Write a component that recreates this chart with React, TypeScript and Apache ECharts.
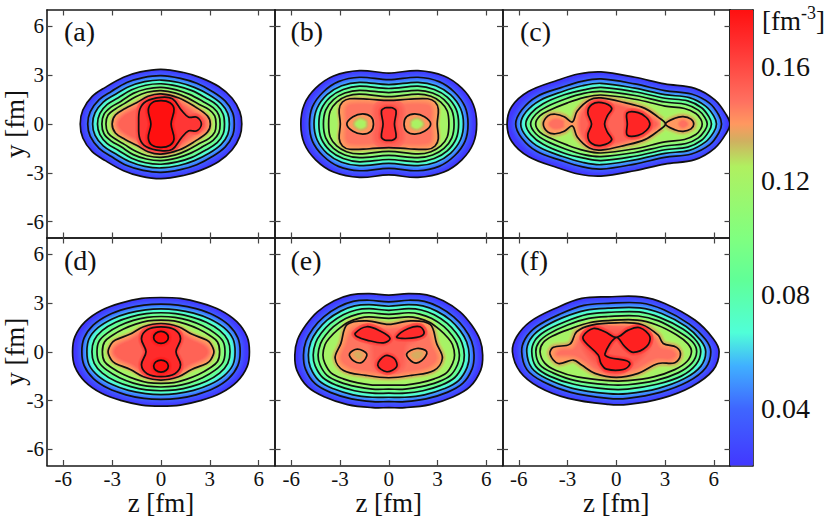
import React, { useEffect, useRef } from "react";
import * as echarts from "echarts";

type P = [number, number];
type Shape = { v: number; from?: number; spread?: number; pts: P[]; line?: boolean };

const FONT = "Liberation Serif";
const panelLabels = ["(a)", "(b)", "(c)", "(d)", "(e)", "(f)"];
const tickValues = [-6, -3, 0, 3, 6];
const colorbarTicks = [0.04, 0.08, 0.12, 0.16];
const colorValues = [0.02, 0.04, 0.055, 0.0667, 0.085, 0.1, 0.125, 0.134, 0.14, 0.148, 0.168, 0.18];
const colorHex = ["#4238ff", "#3f66ff", "#40b0ff", "#50ffd8", "#60ff98", "#80ff80", "#b0f060", "#d0b060", "#ff9860", "#ff7060", "#ff3030", "#ff1010"];

const my = (u: P[]): P[] => [...u, ...u.slice(1, -1).reverse().map(([z, y]) => [z, -y] as P)];
const mz = (u: P[]): P[] => [...u, ...u.slice(1, -1).reverse().map(([z, y]) => [-z, y] as P)];
// quarter: from the left tip to the top centre
const mq = (u: P[]): P[] => my([...u, ...u.slice(0, -1).reverse().map(([z, y]) => [-z, y] as P)]);

const panelA: Shape[] = [
  { v: 0.02, pts: my([[-4.96,0],[-4.8,0.86],[-4.24,1.68],[-3.42,2.25],[-2.3,2.87],[-1.27,3.2],[0,3.36],[1.39,3.16],[2.42,2.85],[3.55,2.3],[4.37,1.58],[4.84,0.76],[4.96,0]]) },
  { v: 0.04, pts: my([[-4.5,0],[-4.35,0.75],[-3.8,1.5],[-3.05,2.0],[-2.1,2.55],[-1.1,2.85],[0,2.97],[1.2,2.8],[2.2,2.5],[3.15,2.0],[3.95,1.4],[4.4,0.7],[4.5,0]]) },
  { v: 0.06, pts: my([[-4.2,0],[-4.05,0.7],[-3.55,1.35],[-2.85,1.8],[-1.95,2.3],[-1,2.6],[0,2.7],[1.1,2.55],[2.05,2.25],[2.95,1.8],[3.7,1.25],[4.1,0.65],[4.2,0]]) },
  { v: 0.08, pts: my([[-3.9,0],[-3.75,0.65],[-3.3,1.2],[-2.65,1.6],[-1.8,2.1],[-0.95,2.38],[0,2.47],[1,2.33],[1.9,2.05],[2.75,1.6],[3.45,1.15],[3.82,0.6],[3.9,0]]) },
  { v: 0.10, pts: my([[-3.63,0],[-3.5,0.6],[-3.05,1.05],[-2.45,1.4],[-1.7,1.88],[-0.9,2.15],[0,2.25],[0.95,2.1],[1.75,1.82],[2.55,1.4],[3.2,1.0],[3.55,0.55],[3.63,0]]) },
  { v: 0.12, pts: my([[-3.38,0],[-3.25,0.55],[-2.8,0.92],[-2.25,1.25],[-1.55,1.68],[-0.85,1.95],[0,2.05],[0.9,1.9],[1.6,1.62],[2.35,1.2],[2.95,0.88],[3.3,0.5],[3.38,0]]) },
  { v: 0.14, pts: my([[-3.0,0],[-2.8,0.55],[-2.2,0.95],[-1.5,1.3],[-0.8,1.7],[0,1.85],[1.1,1.6],[2.1,1.05],[2.85,0.5],[3.03,0]]) },
  { v: 0.152, from: 0.14, spread: 5, line: false, pts: my([[-2.6,0],[-2.3,0.45],[-1.6,0.85],[-0.8,1.3],[0,1.5],[1,1.3],[1.9,0.7],[2.6,0.3],[2.7,0]]) },
  { v: 0.166, from: 0.152, pts: my([[-1.37,0],[-1.3,0.9],[-0.9,1.4],[0,1.64],[0.7,1.55],[1.25,0.85],[1.7,0.42],[2.2,0.42],[2.48,0]]) },
  { v: 0.18, from: 0.166, pts: my([[-0.62,0],[-0.78,0.85],[-0.55,1.3],[0,1.43],[0.55,1.3],[0.8,0.9],[0.62,0]]) },
];

const panelB: Shape[] = [
  { v: 0.02, pts: mq([[-5.41,0],[-5.2,1.2],[-4.5,2.2],[-3.4,2.95],[-1.8,3.28],[0,3.13]]) },
  { v: 0.04, pts: mq([[-4.88,0],[-4.7,1.05],[-4.05,1.95],[-3.1,2.6],[-1.8,2.87],[0,2.72]]) },
  { v: 0.06, pts: mq([[-4.6,0],[-4.42,0.95],[-3.8,1.8],[-2.9,2.35],[-1.8,2.56],[0,2.42]]) },
  { v: 0.08, pts: mq([[-4.3,0],[-4.15,0.9],[-3.6,1.65],[-2.8,2.12],[-1.8,2.32],[0,2.18]]) },
  { v: 0.10, pts: mq([[-4.02,0],[-3.88,0.85],[-3.4,1.5],[-2.7,1.9],[-1.8,2.07],[0,1.93]]) },
  { v: 0.12, pts: mq([[-3.7,0],[-3.6,0.8],[-3.2,1.35],[-2.6,1.7],[-1.8,1.84],[0,1.68]]) },
  { v: 0.14, pts: mq([[-2.98,0],[-3.05,0.9],[-2.85,1.35],[-2.4,1.55],[-1.2,1.52],[0,1.45]]) },
  { v: 0.147, from: 0.14, spread: 5, line: false, pts: mq([[-2.55,0],[-2.6,0.85],[-2.4,1.15],[-1.2,1.2],[0,1.15]]) },
  { v: 0.153, from: 0.147, spread: 5, line: false, pts: mq([[-0.75,0],[-0.8,0.9],[-0.5,1.2],[0,1.25]]) },
  { v: 0.166, from: 0.153, pts: mq([[-0.35,0],[-0.45,0.8],[-0.2,1.0],[0,1.0]]) },
  { v: 0.14, from: 0.147, spread: 2, pts: my([[-2.58,0],[-2.2,0.45],[-1.6,0.62],[-1.1,0.45],[-0.94,0]]) },
  { v: 0.122, from: 0.14, spread: 5, line: false, pts: my([[-2.0,0],[-1.75,0.2],[-1.5,0.1],[-1.5,0]]) },
  { v: 0.14, from: 0.147, spread: 2, pts: my([[0.94,0],[1.1,0.45],[1.6,0.62],[2.2,0.45],[2.58,0]]) },
  { v: 0.122, from: 0.14, spread: 5, line: false, pts: my([[1.5,0],[1.5,0.1],[1.75,0.2],[2.0,0]]) },
];

const panelC: Shape[] = [
  { v: 0.02, pts: my([[-6.72,0],[-6.43,1.07],[-5.41,1.99],[-3.57,2.7],[-2.34,3.07],[-0.94,3.2],[1.15,2.87],[2.99,2.46],[4.84,2.19],[6.07,1.48],[6.78,0.55],[6.99,0]]) },
  { v: 0.04, pts: my([[-6.19,0],[-5.82,0.86],[-4.9,1.68],[-3.36,2.25],[-2.13,2.62],[-0.94,2.77],[1.15,2.46],[2.99,2.05],[4.63,1.84],[5.76,1.27],[6.31,0.55],[6.48,0]]) },
  { v: 0.06, pts: my([[-5.88,0],[-5.55,0.75],[-4.7,1.45],[-3.3,2.0],[-2.1,2.35],[-0.94,2.5],[1.15,2.2],[3,1.8],[4.5,1.62],[5.5,1.1],[6.0,0.5],[6.17,0]]) },
  { v: 0.08, pts: my([[-5.57,0],[-5.25,0.65],[-4.5,1.25],[-3.2,1.8],[-2,2.1],[-0.94,2.25],[1.15,1.98],[3,1.58],[4.4,1.42],[5.25,1],[5.7,0.45],[5.86,0]]) },
  { v: 0.10, pts: my([[-5.27,0],[-4.95,0.6],[-4.3,1.05],[-3.1,1.55],[-2,1.88],[-0.94,2.0],[1.15,1.75],[3,1.35],[4.3,1.2],[5.05,0.85],[5.45,0.4],[5.6,0]]) },
  { v: 0.12, pts: my([[-4.96,0],[-4.7,0.5],[-4.1,0.85],[-3,1.3],[-2,1.62],[-0.94,1.78],[1.15,1.52],[3,1.1],[4.2,0.95],[4.9,0.65],[5.2,0.3],[5.29,0]]) },
  { v: 0.14, spread: 6.5, pts: my([[-4.49,0],[-4.2,0.5],[-3.75,0.6],[-3.2,0.45],[-2.7,0.12],[-2.4,0.8],[-1.65,1.48],[-0.94,1.6],[0.53,1.31],[1.76,0.96],[2.58,0.42],[3.03,0]]) },
  { v: 0.14, spread: 6.5, pts: my([[3.03,0],[3.6,0.35],[4.12,0.45],[4.6,0.3],[4.77,0]]) },
  { v: 0.148, from: 0.14, spread: 3, line: false, pts: my([[-4.1,0],[-3.8,0.25],[-3.3,0.15],[-3.3,0]]) },
  { v: 0.148, from: 0.14, spread: 3, line: false, pts: my([[3.9,0],[4.1,0.18],[4.35,0]]) },
  { v: 0.152, from: 0.14, spread: 5, line: false, pts: my([[-2.2,0],[-2.0,0.8],[-1.4,1.2],[-0.9,1.3],[0.5,1.0],[1.6,0.6],[2.3,0.2],[2.5,0]]) },
  { v: 0.172, from: 0.152, pts: my([[-1.52,0],[-1.75,0.7],[-1.5,1.2],[-0.9,1.31],[-0.28,0.98],[-0.55,0.5],[-0.72,0]]) },
  { v: 0.172, from: 0.152, pts: my([[0.68,0],[0.68,0.68],[1.35,0.7],[1.85,0.4],[2.07,0]]) },
];

const panelD: Shape[] = [
  { v: 0.02, pts: mq([[-5.43,0],[-5.29,0.92],[-4.67,1.84],[-3.65,2.56],[-2.42,3.01],[-1.19,3.28],[0,3.34]]) },
  { v: 0.04, pts: mq([[-4.86,0],[-4.72,0.85],[-4.15,1.65],[-3.25,2.25],[-2.15,2.65],[-1.05,2.87],[0,2.93]]) },
  { v: 0.06, pts: mq([[-4.55,0],[-4.42,0.8],[-3.87,1.48],[-3,2.02],[-2,2.38],[-0.95,2.58],[0,2.64]]) },
  { v: 0.08, pts: mq([[-4.24,0],[-4.1,0.72],[-3.6,1.32],[-2.78,1.82],[-1.85,2.15],[-0.9,2.35],[0,2.4]]) },
  { v: 0.10, pts: mq([[-3.93,0],[-3.8,0.65],[-3.3,1.15],[-2.55,1.6],[-1.7,1.93],[-0.85,2.12],[0,2.17]]) },
  { v: 0.12, pts: mq([[-3.6,0],[-3.47,0.6],[-3.0,1.0],[-2.3,1.4],[-1.55,1.7],[-0.8,1.9],[0,1.95]]) },
  { v: 0.14, pts: mq([[-3.25,0],[-3.05,0.5],[-2.8,0.72],[-1.88,1.09],[-1.07,1.54],[0,1.74]]) },
  { v: 0.152, from: 0.14, spread: 5, line: false, pts: mq([[-2.85,0],[-2.6,0.35],[-1.8,0.72],[-1,1.2],[0,1.4]]) },
  { v: 0.17, from: 0.152, pts: my([[-0.92,0],[-1.2,0.8],[-0.85,1.35],[0,1.53],[0.85,1.35],[1.2,0.8],[0.92,0]]) },
  { v: 0.18, from: 0.17, pts: [[-0.45,0.88],[-0.32,1.14],[0,1.25],[0.32,1.14],[0.45,0.88],[0.32,0.62],[0,0.51],[-0.32,0.62]] },
  { v: 0.18, from: 0.17, pts: [[-0.45,-0.88],[-0.32,-0.62],[0,-0.51],[0.32,-0.62],[0.45,-0.88],[0.32,-1.14],[0,-1.25],[-0.32,-1.14]] },
];

const panelE: Shape[] = [
  { v: 0.02, pts: mz([[0,3.48],[1.2,3.58],[2.34,3.5],[3.36,3.14],[4.39,2.46],[5.1,1.64],[5.62,0.72],[5.78,-0.2],[5.66,-1.13],[5,-2.15],[3.98,-2.77],[2.54,-3.25],[1,-3.44],[0,-3.44]]) },
  { v: 0.04, pts: mz([[0,3.07],[1.2,3.17],[2.2,3.1],[3.1,2.75],[4,2.15],[4.65,1.45],[5.1,0.65],[5.25,-0.2],[5.13,-1.05],[4.55,-1.95],[3.6,-2.5],[2.3,-2.9],[1,-3.07],[0,-3.07]]) },
  { v: 0.06, pts: mz([[0,2.8],[1.2,2.9],[2.1,2.82],[2.95,2.5],[3.8,1.95],[4.4,1.3],[4.8,0.6],[4.95,-0.2],[4.83,-0.95],[4.3,-1.78],[3.4,-2.28],[2.2,-2.65],[1,-2.8],[0,-2.8]]) },
  { v: 0.08, pts: mz([[0,2.55],[1.2,2.65],[2,2.57],[2.8,2.28],[3.6,1.75],[4.15,1.15],[4.5,0.55],[4.65,-0.2],[4.53,-0.87],[4.05,-1.6],[3.2,-2.07],[2.1,-2.4],[1,-2.55],[0,-2.55]]) },
  { v: 0.10, pts: mz([[0,2.3],[1.2,2.4],[1.9,2.32],[2.65,2.05],[3.4,1.55],[3.9,1],[4.2,0.5],[4.35,-0.2],[4.23,-0.8],[3.8,-1.45],[3,-1.87],[2,-2.15],[1,-2.3],[0,-2.3]]) },
  { v: 0.12, pts: mz([[0,2.05],[1.2,2.15],[1.8,2.07],[2.5,1.82],[3.15,1.35],[3.65,0.85],[3.92,0.45],[4.05,-0.2],[3.93,-0.72],[3.55,-1.3],[2.8,-1.67],[1.9,-1.92],[1,-2.05],[0,-2.05]]) },
  { v: 0.14, spread: 6, pts: mz([[0,1.68],[1.35,1.9],[2.55,1.68],[2.95,0.5],[3.3,-0.4],[2.78,-1.15],[1.4,-1.45],[0,-1.6]]) },
  { v: 0.147, from: 0.14, spread: 5, line: false, pts: mz([[0,1.4],[1.35,1.55],[2.2,1.35],[2.6,0.4],[2.9,-0.4],[2.4,-0.9],[1.3,-1.15],[0,-1.3]]) },
  { v: 0.153, from: 0.147, spread: 6, line: false, pts: mz([[0,1.1],[1.3,1.2],[1.8,1.0],[1,0.45],[0.75,-0.9],[0,-1.1]]) },
  { v: 0.17, from: 0.153, pts: [[-2.07,1.13],[-1.35,1.54],[-0.53,1.27],[0.08,0.82],[-0.33,0.55],[-1.35,0.72],[-1.93,0.92]] },
  { v: 0.17, from: 0.153, pts: [[0.49,0.92],[1.21,1.43],[1.93,1.54],[2.17,1.13],[1.72,0.88],[0.8,0.82]] },
  { v: 0.17, from: 0.153, pts: [[-0.23,-0.25],[0.33,-0.41],[0.49,-0.92],[-0.12,-1.23],[-0.68,-0.82]] },
  { v: 0.14, from: 0.147, spread: 2, pts: [[-2.42,-0.14],[-1.93,0.16],[-1.35,-0.14],[-1.66,-0.66],[-2.17,-0.55]] },
  { v: 0.135, from: 0.14, spread: 3, line: false, pts: [[-2.1,-0.15],[-1.9,-0.05],[-1.65,-0.2],[-1.85,-0.4]] },
  { v: 0.14, from: 0.147, spread: 2, pts: [[1.1,-0.14],[1.72,0.2],[2.34,0],[2.03,-0.55],[1.52,-0.66]] },
  { v: 0.135, from: 0.14, spread: 3, line: false, pts: [[1.45,-0.2],[1.75,-0.02],[2.05,-0.1],[1.75,-0.4]] },
];

const panelF: Shape[] = [
  { v: 0.02, pts: [[-6.39,0],[-6.13,0.92],[-5.31,1.84],[-3.77,2.66],[-2.13,3.28],[-0.49,3.38],[1.56,3.38],[2.99,2.97],[4.84,1.95],[5.96,0.82],[6.33,0],[5.96,-1.13],[4.63,-2.15],[2.79,-2.87],[0.74,-3.24],[-0.49,-3.24],[-2.95,-2.87],[-4.8,-2.15],[-5.92,-1.23]] },
  { v: 0.04, pts: [[-5.82,0],[-5.6,0.8],[-4.9,1.55],[-3.5,2.3],[-2,2.85],[-0.5,2.98],[1.5,3.0],[2.9,2.6],[4.5,1.7],[5.5,0.75],[5.82,0],[5.5,-1.0],[4.4,-1.85],[2.7,-2.5],[0.7,-2.87],[-0.5,-2.87],[-2.8,-2.5],[-4.5,-1.85],[-5.5,-1.1]] },
  { v: 0.06, pts: [[-5.51,0],[-5.3,0.75],[-4.65,1.4],[-3.3,2.1],[-1.9,2.55],[-0.5,2.68],[1.45,2.7],[2.8,2.35],[4.3,1.55],[5.2,0.7],[5.51,0],[5.2,-0.9],[4.2,-1.65],[2.6,-2.25],[0.7,-2.58],[-0.5,-2.58],[-2.7,-2.25],[-4.3,-1.65],[-5.2,-1]] },
  { v: 0.08, pts: [[-5.2,0],[-5,0.7],[-4.4,1.25],[-3.15,1.85],[-1.8,2.3],[-0.5,2.42],[1.4,2.45],[2.7,2.1],[4.1,1.4],[4.95,0.65],[5.2,0],[4.9,-0.8],[4,-1.5],[2.5,-2],[0.7,-2.3],[-0.5,-2.3],[-2.6,-2],[-4.1,-1.5],[-4.95,-0.9]] },
  { v: 0.10, pts: [[-4.95,0],[-4.75,0.6],[-4.15,1.1],[-3,1.65],[-1.7,2.05],[-0.5,2.17],[1.35,2.2],[2.6,1.9],[3.9,1.2],[4.7,0.6],[4.95,0],[4.65,-0.7],[3.8,-1.3],[2.4,-1.78],[0.7,-2.03],[-0.5,-2.03],[-2.5,-1.78],[-3.9,-1.3],[-4.7,-0.8]] },
  { v: 0.12, pts: [[-4.69,0],[-4.5,0.55],[-3.95,0.95],[-2.85,1.4],[-1.6,1.8],[-0.5,1.92],[1.3,1.95],[2.5,1.65],[3.7,1.05],[4.4,0.5],[4.63,0],[4.35,-0.6],[3.6,-1.1],[2.3,-1.55],[0.7,-1.78],[-0.5,-1.78],[-2.4,-1.55],[-3.7,-1.15],[-4.4,-0.7]] },
  { v: 0.14, spread: 6.5, pts: [[-4.08,-0.14],[-3.87,0.27],[-2.85,0.47],[-2.44,1.23],[-1.52,1.64],[0,1.78],[1.56,1.68],[2.58,1.02],[2.89,0.51],[3.71,0.27],[3.95,-0.2],[3.61,-0.68],[2.58,-0.72],[1.35,-1.33],[0,-1.58],[-1.31,-1.33],[-2.13,-0.82],[-2.64,-0.51],[-3.57,-0.72]] },
  { v: 0.148, from: 0.14, spread: 5, line: false, pts: [[-3.6,-0.15],[-3.4,0.05],[-2.6,0.15],[-2.1,1.0],[-1.4,1.3],[0,1.45],[1.4,1.35],[2.3,0.8],[2.7,0.2],[3.4,0.05],[3.6,-0.2],[3.3,-0.4],[2.4,-0.4],[1.2,-1.0],[0,-1.3],[-1.2,-1.05],[-1.9,-0.55],[-2.6,-0.2]] },
  { v: 0.155, from: 0.148, spread: 6, line: false, pts: [[-2.0,0.5],[-1.5,1.3],[0,1.3],[1.5,1.2],[2.0,0.5],[1.2,-0.5],[0,-1.2],[-1,-0.8]] },
  { v: 0.174, from: 0.155, pts: [[-2.03,0.96],[-1.41,1.43],[-0.7,1.23],[0,0.88],[0.74,1.33],[1.45,1.48],[2.07,0.92],[1.86,0.31],[1.05,-0.04],[0.53,0.31],[0,0.88],[-0.7,-0.14],[-0.39,-0.37],[0.64,-0.55],[0.84,-0.76],[0.43,-1.09],[-0.59,-1.07],[-0.94,-0.72],[-1.11,-0.2],[-1.93,0.61]] },
];

const panels = [panelA, panelB, panelC, panelD, panelE, panelF];

const GRID_LEFT = [47, 275, 502.5];
const GRID_W = [228, 227.5, 227.5];
const GRID_TOP = [10, 238];
const GRID_H = [228, 227.5];
const INK = "#1a1a1a";
const TICK = "#444444";
const STEPS = 4;

const hexRgb = (h: string) => [1, 3, 5].map((i) => parseInt(h.slice(i, i + 2), 16));
function colorAt(v: number): string {
  let i = 0;
  while (i < colorValues.length - 2 && v > colorValues[i + 1]) i++;
  const t = Math.min(1, Math.max(0, (v - colorValues[i]) / (colorValues[i + 1] - colorValues[i])));
  const a = hexRgb(colorHex[i]);
  const b = hexRgb(colorHex[i + 1]);
  return `rgb(${a.map((x, k) => Math.round(x + (b[k] - x) * t)).join(",")})`;
}

const renderPanel = (shapes: Shape[]) => (_: any, api: any) => {
  const fills: any[] = [];
  const lines: any[] = [];
  shapes.forEach((s) => {
    const points = s.pts.map((p) => api.coord(p));
    const shape = { points, smooth: 0.36 };
    const from = s.from ?? (s.v > 0.03 ? s.v - 0.02 : s.v);
    const spread = s.spread ?? (s.v === 0.04 ? 7 : 4.5);
    if (from !== s.v) {
      for (let i = STEPS; i >= 1; i--) {
        const f = i / (STEPS + 1);
        fills.push({
          type: "polygon",
          shape,
          style: { fill: "none", stroke: colorAt(s.v + (from - s.v) * f), lineWidth: 2 * spread * f, lineJoin: "round" },
        });
      }
    }
    fills.push({ type: "polygon", shape, style: { fill: colorAt(s.v), stroke: "none" } });
    if (s.line !== false) {
      lines.push({ type: "polygon", shape, style: { fill: "none", stroke: "#101010", lineWidth: 1.7 } });
    }
  });
  return { type: "group", children: [...fills, ...lines] };
};

const renderColorbar = (_: any, api: any) => {
  const a = api.coord([0, 0.18]);
  const b = api.coord([1, 0.02]);
  const colorStops = colorValues.map((v, i) => ({ offset: (v - 0.02) / 0.16, color: colorHex[i] }));
  return {
    type: "rect",
    shape: { x: a[0], y: a[1], width: b[0] - a[0], height: b[1] - a[1] },
    style: { fill: new echarts.graphic.LinearGradient(0, 1, 0, 0, colorStops) },
  };
};

function buildOption() {
  const grid: any[] = [];
  const xAxis: any[] = [];
  const yAxis: any[] = [];
  const series: any[] = [];
  const graphic: any[] = [];
  const line = { show: true, onZero: false, lineStyle: { color: INK, width: 1.6 } };
  const ticks = { show: true, inside: true, length: 5.5, customValues: tickValues, lineStyle: { color: TICK, width: 1.2 } };
  const label = { fontFamily: FONT, fontSize: 21, color: "#111", customValues: tickValues };
  const nameStyle = { fontFamily: FONT, fontSize: 27, color: "#111", lineHeight: 24 };

  panels.forEach((shapes, idx) => {
    const col = idx % 3;
    const row = Math.floor(idx / 3);
    const g = grid.length;
    grid.push({ left: GRID_LEFT[col], top: GRID_TOP[row], width: GRID_W[col], height: GRID_H[row], outerBoundsMode: "none" });
    const base = { type: "value", min: -7, max: 7, gridIndex: g, splitLine: { show: false }, axisLine: line, axisTick: ticks };
    const xi = xAxis.length;
    xAxis.push({
      ...base,
      position: "bottom",
      axisLabel: row === 1 ? { ...label, show: true, margin: 3 } : { show: false },
      name: row === 1 ? "z [fm]" : "",
      nameLocation: "middle",
      nameGap: 25,
      nameMoveOverlap: false,
      nameTextStyle: nameStyle,
    });
    xAxis.push({ ...base, position: "top", axisLabel: { show: false } });
    const yi = yAxis.length;
    yAxis.push({
      ...base,
      position: "left",
      axisLabel: col === 0 ? { ...label, show: true, margin: 3 } : { show: false },
      name: col === 0 ? "y [fm]" : "",
      nameLocation: "middle",
      nameGap: 20,
      nameMoveOverlap: false,
      nameTextStyle: nameStyle,
    });
    yAxis.push({ ...base, position: "right", axisLabel: { show: false } });
    series.push({
      type: "custom",
      coordinateSystem: "cartesian2d",
      xAxisIndex: xi,
      yAxisIndex: yi,
      silent: true,
      clip: false,
      z: 1,
      data: [[0, 0]],
      renderItem: renderPanel(shapes),
    });
    graphic.push({
      type: "text",
      z: 10,
      x: [64, 290.5, 520][col],
      y: [31, 260][row],
      style: { text: panelLabels[idx], fontFamily: FONT, fontSize: 28, fill: "#111", verticalAlign: "middle" },
    });
  });

  const g = grid.length;
  grid.push({ left: 730, top: 10, width: 23, height: 455.5, outerBoundsMode: "none" });
  const xi = xAxis.length;
  const xBase = { type: "value", min: 0, max: 1, gridIndex: g, splitLine: { show: false }, axisLine: line, axisTick: { show: false }, axisLabel: { show: false } };
  xAxis.push({ ...xBase, position: "bottom" }, { ...xBase, position: "top" });
  const yi = yAxis.length;
  const yBase = { type: "value", min: 0.02, max: 0.18, gridIndex: g, splitLine: { show: false }, axisLine: line };
  yAxis.push({
    ...yBase,
    position: "right",
    axisTick: { show: true, inside: true, length: 6, customValues: colorbarTicks, lineStyle: { color: TICK, width: 1.2 } },
    axisLabel: { show: true, inside: false, margin: 8, fontFamily: FONT, fontSize: 28, color: "#111", customValues: colorbarTicks, formatter: (v: number) => v.toFixed(2) },
  });
  yAxis.push({ ...yBase, position: "left", axisTick: { show: false }, axisLabel: { show: false } });
  series.push({
    type: "custom",
    coordinateSystem: "cartesian2d",
    xAxisIndex: xi,
    yAxisIndex: yi,
    silent: true,
    data: [[0, 0.1]],
    renderItem: renderColorbar,
  });
  graphic.push({
    type: "text",
    z: 10,
    x: 762,
    y: 4,
    style: {
      text: "{a|[fm}{b|-3}{a|]}",
      rich: {
        a: { fontFamily: FONT, fontSize: 27, fill: "#111", lineHeight: 30, verticalAlign: "bottom" },
        b: { fontFamily: FONT, fontSize: 18, fill: "#111", lineHeight: 30, verticalAlign: "top" },
      },
    },
  });

  return { animation: false, backgroundColor: "#fff", grid, xAxis, yAxis, series, graphic };
}

export default function App() {
  const ref = useRef<HTMLDivElement>(null);
  useEffect(() => {
    const chart = echarts.init(ref.current!, undefined, { renderer: "svg" });
    chart.setOption(buildOption() as any);
    return () => chart.dispose();
  }, []);
  return <div ref={ref} style={{ position: "fixed", left: 0, top: 0, width: 830, height: 517 }} />;
}
